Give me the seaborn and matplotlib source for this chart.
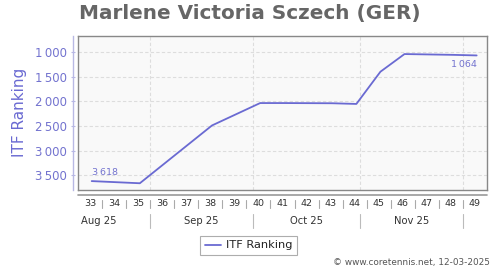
import datetime as dt
import numpy as np
import pandas as pd
import matplotlib
matplotlib.use("Agg")
import matplotlib.pyplot as plt
from matplotlib.lines import Line2D
import seaborn as sns

# ---- data ----
weeks = [33, 35, 38, 40, 41, 42, 43, 44, 45, 46, 47, 48, 49]
ranking = [3618, 3662, 2487, 2032, 2032, 2034, 2036, 2050, 1395, 1036, 1044, 1052, 1064]
week_labels = [str(w) for w in range(33, 50)]
month_labels = ["Aug 25", "Sep 25", "Oct 25", "Nov 25"]
month_starts = ["2025-09-01", "2025-10-01", "2025-11-01", "2025-12-01"]
yticks = [1000, 1500, 2000, 2500, 3000, 3500]
title = "Marlene Victoria Sczech (GER)"
series_name = "ITF Ranking"
credit = "\u00a9 www.coretennis.net, 12-03-2025"

LINE = "#6a6ad2"
TXT = "#7373cf"
GRID = "#dddddd"

def xpos(datestr):
    d = dt.date.fromisoformat(datestr)
    iso = d.isocalendar()
    return iso[1] + (iso[2] - 1 - 4) / 7.0

def fmt(v):
    s = f"{v:,}"
    return s.replace(",", "\u2009")

sns.set_theme(style="white")
plt.rcParams["font.family"] = ["DejaVu Sans"]

W, H = 500, 270
fig = plt.figure(figsize=(5, 2.7), dpi=100)

def rect(x0, y0, x1, y1):
    return [x0 / W, 1 - y1 / H, (x1 - x0) / W, (y1 - y0) / H]

xlim = (32.43, 49.43)
ylim = (3799, 669)

ax = fig.add_axes(rect(78, 36, 487, 190))
ax.set_facecolor("#f9f9f9")
df = pd.DataFrame({"week": weeks, "rank": ranking})
sns.lineplot(data=df, x="week", y="rank", ax=ax, color=LINE, linewidth=1.3,
             label=series_name, legend=False)
ax.set_xlim(*xlim)
ax.set_ylim(*ylim)
ax.set_xlabel("")
ax.set_ylabel("")
ax.set_xticks([])
ax.set_yticks(yticks)
ax.tick_params(axis="y", length=0, labelleft=False)
ax.grid(axis="y", color=GRID, linestyle=(0, (3, 2)), linewidth=0.8)
for ms in month_starts:
    ax.axvline(xpos(ms), color=GRID, linestyle=(0, (3, 2)), linewidth=0.8, zorder=0)
for s in ax.spines.values():
    s.set_color("#888888")
    s.set_linewidth(1.0)

# annotations
ax.annotate(fmt(ranking[0]), (weeks[0], ranking[0]), xytext=(0.5, 6),
            textcoords="offset points", ha="left", va="center",
            fontsize=6.8, color=TXT)
ax.annotate(fmt(ranking[-1]), (weeks[-1], ranking[-1]), xytext=(0.5, -6.5),
            textcoords="offset points", ha="right", va="center",
            fontsize=6.8, color=TXT)

# left value axis (offset)
axl = fig.add_axes(rect(73.3, 36, 73.31, 190), sharey=ax)
axl.set_ylim(*ylim)
axl.set_xticks([])
for k, s in axl.spines.items():
    s.set_visible(k == "left")
axl.spines["left"].set_color("#b8b8e4")
axl.spines["left"].set_linewidth(1.0)
axl.patch.set_alpha(0)
axl.set_yticks(yticks)
axl.set_yticklabels([fmt(v) for v in yticks])
axl.tick_params(axis="y", direction="inout", length=2.5, width=0.8,
                color="#b8b8e4", labelcolor=TXT, labelsize=8.5, pad=3.4,
                left=True, labelleft=True)

fig.text(20 / W, 1 - 112.5 / H, series_name, rotation=90, ha="center",
         va="center", fontsize=11, color="#6a6ad2")

# week / month axis below
axb = fig.add_axes(rect(78, 195.3, 487, 230))
axb.set_xlim(*xlim)
axb.set_ylim(0, 1)
axb.axis("off")
axb.add_line(Line2D([0, 1], [1, 1], transform=axb.transAxes, color="#999999",
                    linewidth=1.2, clip_on=False))
for lab in week_labels:
    w = int(lab)
    axb.text(w - 0.07, 0.77, lab, ha="center", va="center", fontsize=6.8,
             color="#333333")
for w in range(33, 49):
    axb.plot([w + 0.43, w + 0.43], [0.63, 0.86], color="#aaaaaa", linewidth=0.8)
bounds = [xlim[0]] + [xpos(m) for m in month_starts]
for i, lab in enumerate(month_labels):
    if i == 0:
        axb.text(xlim[0] + 0.11, 0.26, lab, ha="left", va="center",
                 fontsize=7.2, color="#333333")
    else:
        axb.text((bounds[i] + bounds[i + 1]) / 2, 0.26, lab, ha="center",
                 va="center", fontsize=7.2, color="#333333")
for ms in month_starts:
    x = xpos(ms)
    axb.plot([x, x], [0.06, 0.45], color="#bbbbbb", linewidth=0.8)

fig.text(249.5 / W, 1 - 14 / H, title, ha="center", va="center", fontsize=14.4,
         fontweight="bold", color="#666666")

handles = [Line2D([], [], color=LINE, linewidth=1.3)]
leg = fig.legend(handles, [series_name], loc="center",
                 bbox_to_anchor=(248.8 / W, 1 - 245.5 / H), fontsize=8.2,
                 frameon=True, fancybox=False, handlelength=1.4,
                 handletextpad=0.5, borderpad=0.4, labelcolor="#222222")
leg.get_frame().set_edgecolor("#999999")
leg.get_frame().set_linewidth(0.8)

fig.text(490 / W, 1 - 263 / H, credit, ha="right", va="center", fontsize=6.4,
         color="#555555")

fig.savefig("out.png", dpi=100)
